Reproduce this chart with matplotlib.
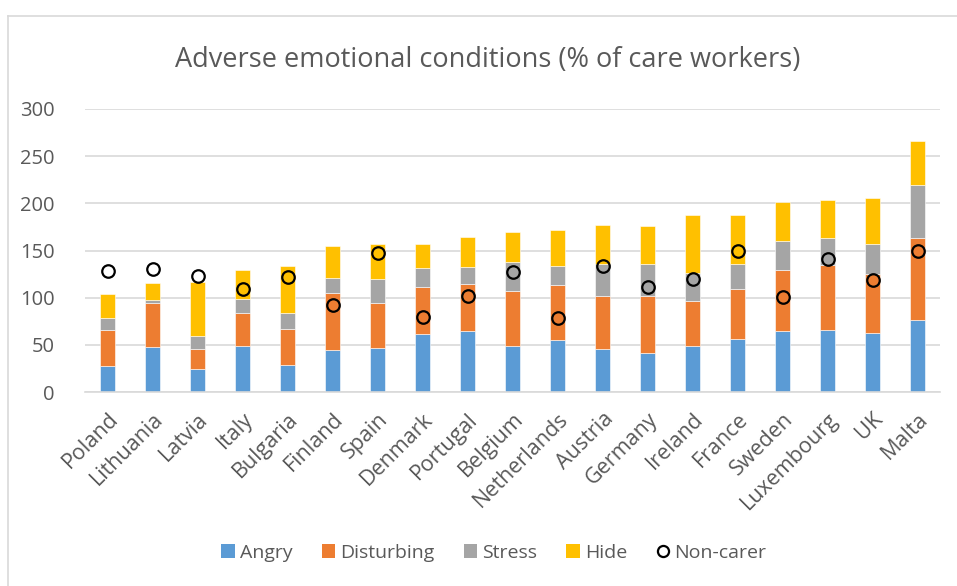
import matplotlib
matplotlib.use("Agg")
import matplotlib.pyplot as plt
from matplotlib.patches import Patch
from matplotlib.lines import Line2D
import numpy as np

countries = ['Poland', 'Lithuania', 'Latvia', 'Italy', 'Bulgaria', 'Finland', 'Spain',
             'Denmark', 'Portugal', 'Belgium', 'Netherlands', 'Austria', 'Germany',
             'Ireland', 'France', 'Sweden', 'Luxembourg', 'UK', 'Malta']
angry = [28, 48, 24, 49, 29, 44, 47, 61, 65, 49, 55.5, 46, 41, 48.5, 56, 65, 66, 63, 76]
disturbing = [38, 46, 22, 35, 38, 61, 47, 50, 49, 58, 58, 56, 61, 48, 53, 64, 69, 62, 87]
stress = [12, 3, 13, 15, 17, 16, 26, 20, 19, 31, 20.5, 34, 34, 30, 27, 31, 28, 32, 56]
hide = [26, 19, 58, 30, 50, 34, 37, 26, 31, 32, 37.5, 41, 40, 61, 52, 41, 41, 49, 47]
noncarer = [128, 130, 123, 109, 122, 92, 147.5, 79, 101.5, 127, 78, 134, 111, 120, 149,
            101, 141, 119, 150]
yticks = [0, 50, 100, 150, 200, 250, 300]

series_names = ['Angry', 'Disturbing', 'Stress', 'Hide']
colors = ['#5B9BD5', '#ED7D31', '#A5A5A5', '#FFC000']
txt = '#595959'
grid = '#D9D9D9'

plt.rcParams['font.family'] = ['Open Sans', 'DejaVu Sans']

W, H = 957, 586
fig = plt.figure(figsize=(W / 100, H / 100), dpi=100)
ax = fig.add_axes([85 / W, 1 - 392 / H, (940 - 85) / W, (392 - 109) / H])

x = np.arange(len(countries))
bottom = np.zeros(len(countries))
for vals, c in zip([angry, disturbing, stress, hide], colors):
    ax.bar(x, vals, width=0.32, bottom=bottom, color=c, edgecolor='white',
           linewidth=0.4, zorder=2)
    bottom += np.array(vals)

ax.plot(x, noncarer, linestyle='none', marker='o', markersize=9,
        markerfacecolor='none', markeredgecolor='black', markeredgewidth=1.6, zorder=3)

ax.set_xlim(-0.5, len(countries) - 0.5)
ax.set_ylim(0, 300)
ax.set_yticks(yticks)
ax.set_yticklabels([str(v) for v in yticks], fontsize=14.5, color=txt)
ax.yaxis.grid(True, color=grid, linewidth=1.2, zorder=0)
ax.set_axisbelow(True)
for s in ['top', 'right', 'left']:
    ax.spines[s].set_visible(False)
ax.spines['bottom'].set_color(grid)
ax.spines['bottom'].set_linewidth(1.2)
ax.tick_params(axis='both', length=0)
ax.tick_params(axis='y', pad=22)
ax.set_xticks(x)
ax.set_xticklabels(countries, rotation=45, ha='right', rotation_mode='anchor',
                   fontsize=15.5, color=txt)
ax.tick_params(axis='x', pad=12)

fig.text(488 / W, 1 - 60 / H, 'Adverse emotional conditions (% of care workers)',
         ha='center', va='center', fontsize=19.5, color=txt)

handles = [Patch(facecolor=c, edgecolor='none') for c in colors]
handles.append(Line2D([], [], linestyle='none', marker='o', markersize=8,
                      markerfacecolor='none', markeredgecolor='black', markeredgewidth=1.6))
leg = fig.legend(handles, series_names + ['Non-carer'], loc='center',
                 bbox_to_anchor=(494 / W, 1 - 553 / H), ncol=5, frameon=False,
                 fontsize=14, handlelength=0.7, handleheight=0.7,
                 handletextpad=0.25, columnspacing=1.5)
for t in leg.get_texts():
    t.set_color(txt)

# chart frame (top and left edges visible)
fig.add_artist(Line2D([8 / W, 1], [1 - 16 / H, 1 - 16 / H], color=grid, linewidth=1.2))
fig.add_artist(Line2D([8 / W, 8 / W], [0, 1 - 16 / H], color=grid, linewidth=1.2))

fig.savefig('out.png', dpi=100)
